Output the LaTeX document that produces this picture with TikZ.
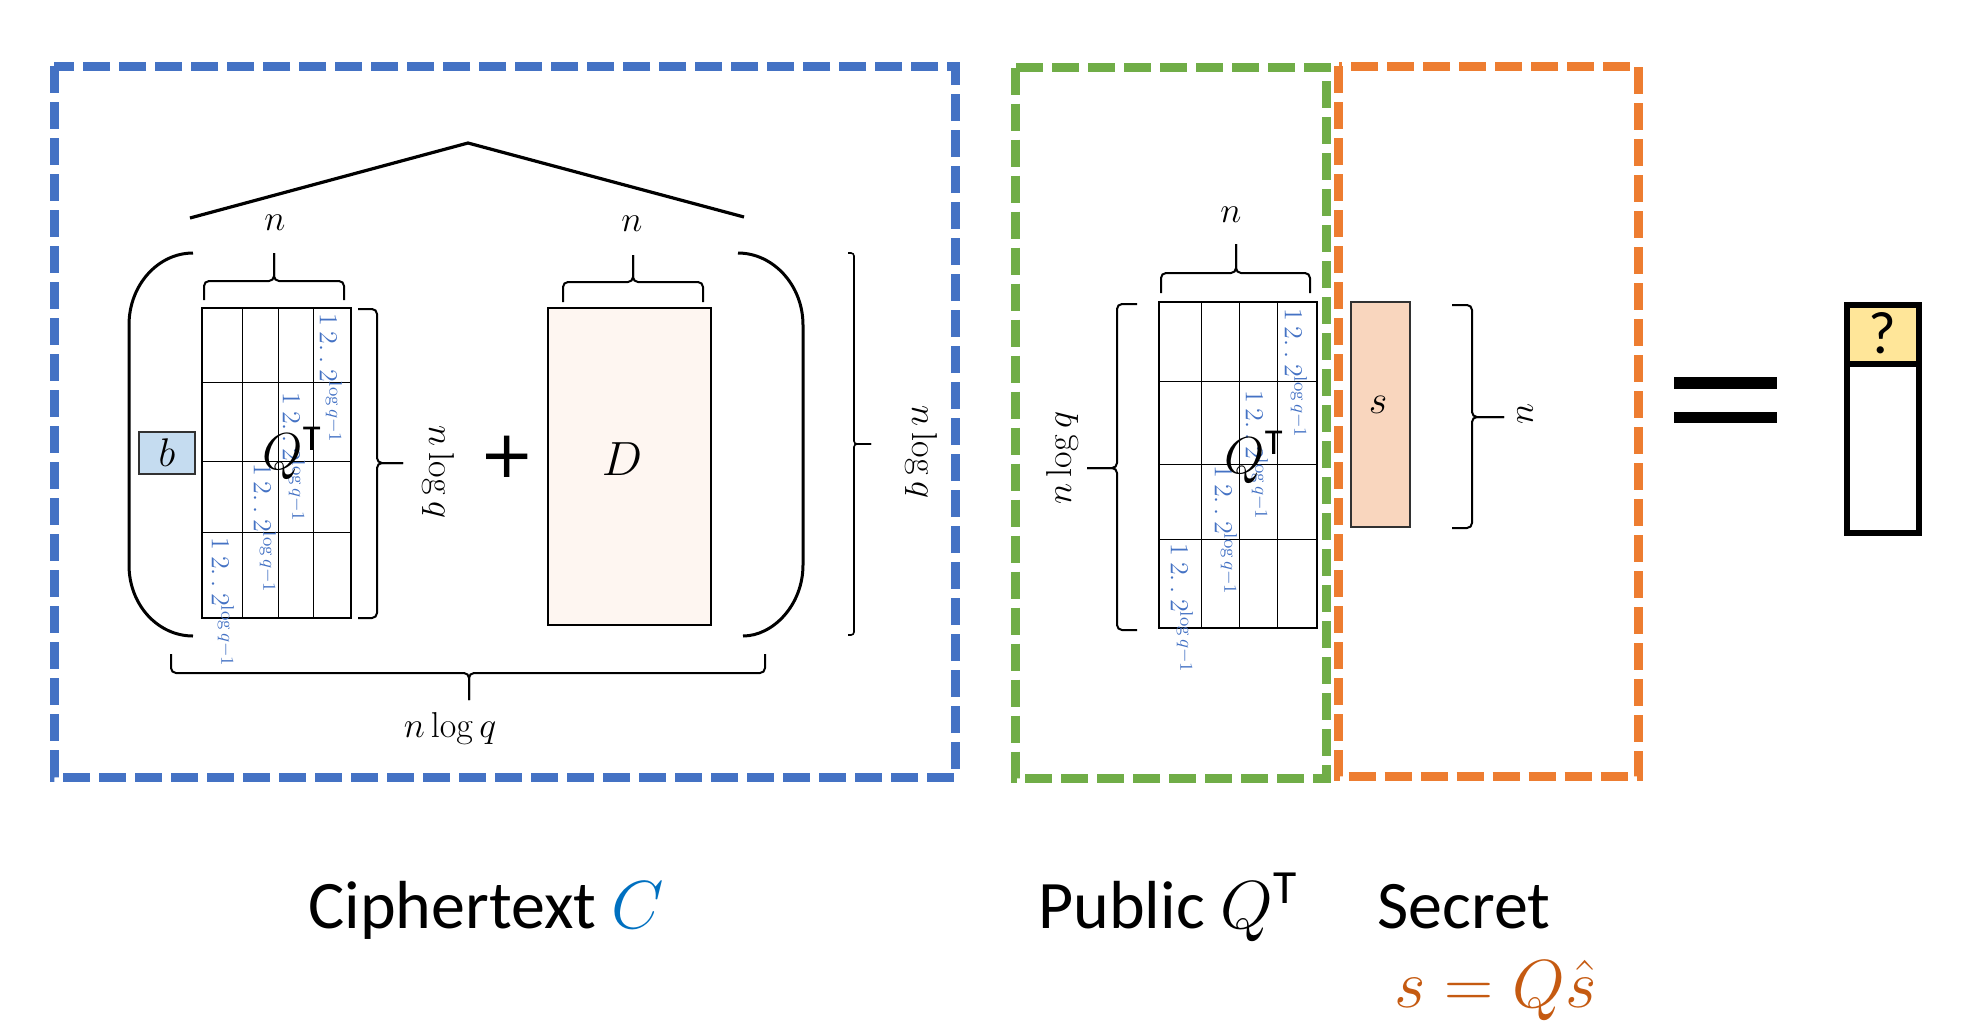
\RequirePackage{fix-cm}
\documentclass[tikz,border=0pt]{standalone}
\usepackage{amsmath}
\usepackage[no-math]{fontspec}
\setmainfont{Carlito}
\newfontfamily\plusfont{DejaVu Sans}
\definecolor{cblue}{RGB}{68,114,196}
\definecolor{cgreen}{RGB}{112,173,71}
\definecolor{corange}{RGB}{237,125,49}
\definecolor{ctext}{RGB}{0,112,192}
\definecolor{sorange}{RGB}{197,90,17}
\definecolor{bfill}{RGB}{197,220,240}
\definecolor{sfill}{RGB}{249,214,190}
\definecolor{qfill}{RGB}{255,230,153}
\definecolor{dfill}{RGB}{254,246,241}
\definecolor{entry}{RGB}{68,114,196}
\definecolor{edge}{RGB}{50,50,50}
\tikzset{
  dashbox/.style={line width=4.5pt, dash pattern=on 13.5pt off 4.5pt},
  gridline/.style={line width=0.5pt},
  mat/.style={draw, line width=1pt, inner sep=0pt},
  brc/.style={line width=1pt, rounded corners=2.5pt},
  thinbrc/.style={line width=0.8pt, rounded corners=1.5pt},
  paren/.style={line width=1.5pt},
  lab/.style={font=\fontsize{18}{18}\selectfont, inner sep=0pt},
  ent/.style={text=entry, font=\fontsize{13}{13}\selectfont, inner sep=0pt, anchor=west, rotate=-90},
  bigtxt/.style={font=\fontsize{34}{34}\selectfont, inner sep=0pt, anchor=base west},
}
\begin{document}
\begin{tikzpicture}[x=0.5pt,y=-0.5pt]
\useasboundingbox (0,0) rectangle (1972,1035);

% dashed frames
\draw[dashbox, cblue] (54,66) rectangle (955,777);
\draw[dashbox, cgreen] (1015.5,67.5) rectangle (1326.5,778);
\draw[dashbox, corange] (1338.5,66) rectangle (1638,776);

% roof
\draw[line width=1.6pt] (190,218) -- (468,143) -- (744,217);

% big parentheses
\draw[paren] (193,253) .. controls (158,253) and (129,285) .. (129,325) -- (129,565) .. controls (129,605) and (158,636) .. (193,636);
\draw[paren] (738,253) .. controls (773,253) and (803,285) .. (803,325) -- (803,565) .. controls (803,605) and (773,636) .. (743,636);

% ---- Q^T matrix (left)
\draw[gridline] (242,308) -- (242,618) (278,308) -- (278,618) (313,308) -- (313,618);
\draw[gridline] (202,382) -- (351,382) (202,461) -- (351,461) (202,532) -- (351,532);
\node[mat, minimum width=74.5pt, minimum height=155pt] (Q1) at (276.5,463) {};
\node[ent] (e14) at (331,313) {$1\ 2.\,.\ 2^{\log q-1}$};
\node[ent] (e13) at (294,392) {$1\ 2.\,.\ 2^{\log q-1}$};
\node[ent] (e12) at (265,463) {$1\ 2.\,.\ 2^{\log q-1}$};
\node[ent] (e11) at (223,537) {$1\ 2.\,.\ 2^{\log q-1}$};
\node[font=\fontsize{26}{26}\selectfont, inner sep=0pt, anchor=base] (QT1) at (292,469) {$Q^{\text{T}}$};

% b box
\node[draw=edge, fill=bfill, line width=1pt, minimum width=28pt, minimum height=21pt, inner sep=0pt, font=\fontsize{20}{20}\selectfont] (bbox) at (167,453) {$b$};

% braces around left Q
\draw[brc] (204,300) -- (204,281) -- (274,281) -- (274,253);
\draw[brc] (344,300) -- (344,281) -- (274,281) -- (274,253);
\node[lab] (nA) at (275,223) {$n$};
\draw[brc] (358,309) -- (377,309) -- (377,463) -- (403,463);
\draw[brc] (358,618) -- (377,618) -- (377,463) -- (403,463);
\node[lab, rotate=-90] (nlq1) at (438,472) {$n\log q$};

% plus
\node[font=\plusfont\fontsize{33}{33}\selectfont, inner sep=0pt] (plus) at (507,457) {+};

% D matrix
\node[draw, fill=dfill, line width=1pt, minimum width=81.5pt, minimum height=158.5pt, inner sep=0pt] (Dbox) at (629.5,466.5) {};
\node[font=\fontsize{24}{24}\selectfont, inner sep=0pt] (Dl) at (622,459) {$D$};
\draw[brc] (563,302) -- (563,282) -- (633,282) -- (633,255);
\draw[brc] (703,302) -- (703,282) -- (633,282) -- (633,255);
\node[lab] (nD) at (632,224) {$n$};

% outer right bracket
\draw[thinbrc] (848,253) -- (854,253) -- (854,444) -- (871,444);
\draw[thinbrc] (848,635) -- (854,635) -- (854,444) -- (871,444);
\node[lab, rotate=-90] (nlq2) at (921,452) {$n\log q$};

% bottom brace
\draw[brc] (171,654) -- (171,673) -- (469,673) -- (469,700);
\draw[brc] (765,654) -- (765,673) -- (469,673) -- (469,700);
\node[lab] (nlqb) at (450,728) {$n\log q$};

% ---- Q^T matrix (right)
\draw[gridline] (1201,302) -- (1201,628) (1239,302) -- (1239,628) (1277,302) -- (1277,628);
\draw[gridline] (1159,381) -- (1317,381) (1159,464) -- (1317,464) (1159,539) -- (1317,539);
\node[mat, minimum width=79pt, minimum height=163pt] (Q2) at (1238,465) {};
\node[ent] (e24) at (1296,308) {$1\ 2.\,.\ 2^{\log q-1}$};
\node[ent] (e23) at (1257,390) {$1\ 2.\,.\ 2^{\log q-1}$};
\node[ent] (e22) at (1226,465) {$1\ 2.\,.\ 2^{\log q-1}$};
\node[ent] (e21) at (1182,543) {$1\ 2.\,.\ 2^{\log q-1}$};
\node[font=\fontsize{26}{26}\selectfont, inner sep=0pt, anchor=base] (QT2) at (1254,473) {$Q^{\text{T}}$};

\draw[brc] (1161,293) -- (1161,273) -- (1236,273) -- (1236,244);
\draw[brc] (1310,293) -- (1310,273) -- (1236,273) -- (1236,244);
\node[lab] (nQ2) at (1231,215) {$n$};
\draw[brc] (1137,304) -- (1117,304) -- (1117,468) -- (1087,468);
\draw[brc] (1137,630) -- (1117,630) -- (1117,468) -- (1087,468);
\node[lab, rotate=90] (nlq3) at (1062,458) {$n\log q$};

% s vector
\node[draw=edge, fill=sfill, line width=1pt, minimum width=29.5pt, minimum height=112.5pt, inner sep=0pt] (sbox) at (1380.5,414.5) {};
\node[font=\fontsize{20}{20}\selectfont, inner sep=0pt] (slab) at (1378,405) {$s$};
\draw[brc] (1452,305) -- (1472,305) -- (1472,417) -- (1504,417);
\draw[brc] (1452,528) -- (1472,528) -- (1472,417) -- (1504,417);
\node[lab, rotate=90] (ns) at (1525,414) {$n$};

% equals
\fill (1674,377) rectangle (1777,389);
\fill (1674,412) rectangle (1777,423);

% result vector
\node[draw, line width=3pt, fill=qfill, minimum width=36pt, minimum height=29.5pt, inner sep=0pt] (qtop) at (1883,334.5) {};
\node[draw, line width=3pt, fill=white, minimum width=36pt, minimum height=84.5pt, inner sep=0pt] (qbot) at (1883,448.5) {};
\node[font=\fontsize{30}{30}\selectfont, inner sep=0pt] (qmark) at (1882,333) {?};

% captions
\node[bigtxt] (cipher) at (308,928) {Ciphertext \textcolor{ctext}{$C$}};
\node[bigtxt] (public) at (1038,928) {Public $Q^{\text{T}}$};
\node[bigtxt] (secret) at (1377,928) {Secret};
\node[bigtxt, text=sorange] (seq) at (1394,1007) {$s=Q\hat{s}$};
\end{tikzpicture}
\end{document}
